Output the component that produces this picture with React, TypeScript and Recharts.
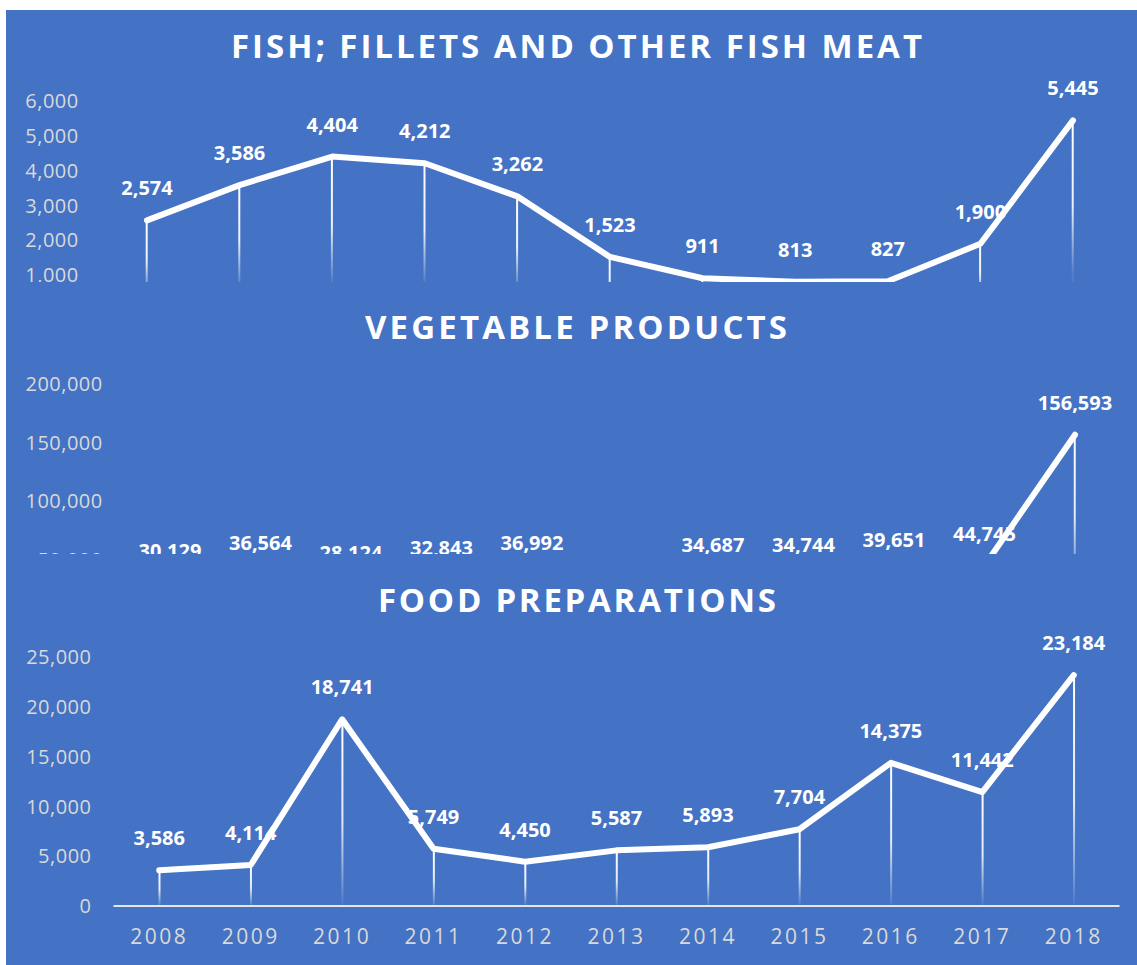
import React from 'react';
import { ComposedChart, Line, Bar, XAxis, YAxis, LabelList } from 'recharts';

const years = ['2008', '2009', '2010', '2011', '2012', '2013', '2014', '2015', '2016', '2017', '2018'];
const fishValues = [2574, 3586, 4404, 4212, 3262, 1523, 911, 813, 827, 1900, 5445];
const vegetableValues = [30129, 36564, 28124, 32843, 36992, 16000, 34687, 34744, 39651, 44745, 156593];
const foodValues = [3586, 4114, 18741, 5749, 4450, 5587, 5893, 7704, 14375, 11442, 23184];

const fishTicks = [0, 1000, 2000, 3000, 4000, 5000, 6000];
const vegetableTicks = [0, 50000, 100000, 150000, 200000];
const foodTicks = [0, 5000, 10000, 15000, 20000, 25000];

const fishTitle = 'FISH; FILLETS AND OTHER FISH MEAT';
const vegetableTitle = 'VEGETABLE PRODUCTS';
const foodTitle = 'FOOD PREPARATIONS';

const BLUE = '#4472C4';
const FONT = '"Open Sans", "Noto Sans", sans-serif';

const fishRows = years.map((year, i) => ({ year, value: fishValues[i] }));
const vegetableRows = years.map((year, i) => ({ year, value: vegetableValues[i] }));
const foodRows = years.map((year, i) => ({ year, value: foodValues[i] }));

const fmt = (v: number) => Number(v).toLocaleString('en-US');

const tickStyle = { fill: '#D9D9D9', fontSize: 20, fontFamily: FONT, letterSpacing: 0.5 };

const renderLabel = (props: any) => {
  const vb = props.viewBox || {};
  const x = vb.x ?? props.x;
  const y = vb.y ?? props.y;
  if (x == null || y == null) return null;
  return (
    <text x={x} y={y - 25} textAnchor="middle" fill="#FFFFFF" fontSize={20} fontWeight={700} fontFamily={FONT}>
      {fmt(props.value)}
    </text>
  );
};

// clipped blue box, chart inside is laid out in page coordinates
function Panel({ top, height, children }: { top: number; height: number; children: React.ReactNode }) {
  return (
    <div style={{ position: 'absolute', left: 6, top, width: 1131, height, overflow: 'hidden', background: BLUE }}>
      <div style={{ position: 'absolute', left: -6, top: -top }}>{children}</div>
    </div>
  );
}

function Series({ id }: { id: string }) {
  return null;
}

export default function App() {
  return (
    <div style={{ position: 'absolute', left: 0, top: 0, width: 1137, height: 965, background: '#FFFFFF', overflow: 'hidden' }}>
      <Panel top={10} height={272}>
        <ComposedChart width={1137} height={330} data={fishRows} margin={{ top: 101, right: 17.7, bottom: 20, left: 0 }}>
          <defs>
            <linearGradient id="dropFish" x1="0" y1="0" x2="0" y2="1">
              <stop offset="0" stopColor="#FFFFFF" stopOpacity={1} />
              <stop offset="0.45" stopColor="#FFFFFF" stopOpacity={0.9} />
              <stop offset="0.8" stopColor="#FFFFFF" stopOpacity={0.1} />
              <stop offset="1" stopColor="#FFFFFF" stopOpacity={0} />
            </linearGradient>
          </defs>
          <XAxis dataKey="year" hide />
          <YAxis width={100.7} domain={[0, 6000]} ticks={fishTicks} interval={0} axisLine={false} tickLine={false} tickSize={0} tickMargin={22} tick={tickStyle} tickFormatter={fmt} />
          <Bar dataKey="value" barSize={2} fill="url(#dropFish)" isAnimationActive={false} />
          <Line dataKey="value" stroke="none" dot={false} activeDot={false} isAnimationActive={false}>
            <LabelList dataKey="value" content={renderLabel} />
          </Line>
          <Line type="linear" dataKey="value" stroke="#FFFFFF" strokeWidth={6} strokeLinecap="round" strokeLinejoin="round" dot={false} activeDot={false} isAnimationActive={false} />
        </ComposedChart>
      </Panel>

      <Panel top={282} height={272}>
        <ComposedChart width={1137} height={640} data={vegetableRows} margin={{ top: 384, right: 16.75, bottom: 22, left: 0 }}>
          <defs>
            <linearGradient id="dropVeg" x1="0" y1="0" x2="0" y2="1">
              <stop offset="0" stopColor="#FFFFFF" stopOpacity={1} />
              <stop offset="0.45" stopColor="#FFFFFF" stopOpacity={0.85} />
              <stop offset="0.8" stopColor="#FFFFFF" stopOpacity={0.1} />
              <stop offset="1" stopColor="#FFFFFF" stopOpacity={0} />
            </linearGradient>
          </defs>
          <XAxis dataKey="year" hide />
          <YAxis width={124.75} domain={[0, 200000]} ticks={vegetableTicks} interval={0} axisLine={false} tickLine={false} tickSize={0} tickMargin={22} tick={tickStyle} tickFormatter={fmt} />
          <Bar dataKey="value" barSize={2} fill="url(#dropVeg)" isAnimationActive={false} />
          <Line dataKey="value" stroke="none" dot={false} activeDot={false} isAnimationActive={false}>
            <LabelList dataKey="value" content={renderLabel} />
          </Line>
          <Line type="linear" dataKey="value" stroke="#FFFFFF" strokeWidth={6} strokeLinecap="round" strokeLinejoin="round" dot={false} activeDot={false} isAnimationActive={false} />
        </ComposedChart>
      </Panel>

      <Panel top={554} height={411}>
        <ComposedChart width={1137} height={965} data={foodRows} margin={{ top: 657, right: 17.5, bottom: 9, left: 0 }}>
          <defs>
            <linearGradient id="dropFood" x1="0" y1="0" x2="0" y2="1">
              <stop offset="0" stopColor="#FFFFFF" stopOpacity={1} />
              <stop offset="0.55" stopColor="#FFFFFF" stopOpacity={0.85} />
              <stop offset="1" stopColor="#FFFFFF" stopOpacity={0.05} />
            </linearGradient>
          </defs>
          <XAxis
            dataKey="year"
            height={50}
            interval={0}
            axisLine={{ stroke: '#E6E6E6', strokeWidth: 2 }}
            tickLine={false}
            tickSize={0}
            tickMargin={23}
            tick={{ fill: '#D9D9D9', fontSize: 21, fontFamily: FONT, letterSpacing: 2.5 }}
          />
          <YAxis width={113.5} domain={[0, 25000]} ticks={foodTicks} interval={0} axisLine={false} tickLine={false} tickSize={0} tickMargin={22} tick={tickStyle} tickFormatter={fmt} />
          <Bar dataKey="value" barSize={2} fill="url(#dropFood)" isAnimationActive={false} />
          <Line dataKey="value" stroke="none" dot={false} activeDot={false} isAnimationActive={false}>
            <LabelList dataKey="value" content={renderLabel} />
          </Line>
          <Line type="linear" dataKey="value" stroke="#FFFFFF" strokeWidth={6} strokeLinecap="round" strokeLinejoin="round" dot={false} activeDot={false} isAnimationActive={false} />
        </ComposedChart>
      </Panel>

      <svg width={1137} height={965} style={{ position: 'absolute', left: 0, top: 0, pointerEvents: 'none' }}>
        <g fill="#FFFFFF" fontFamily={FONT} fontWeight={700} fontSize={33}>
          <text x={231} y={58} textLength={691} lengthAdjust="spacing">{fishTitle}</text>
          <text x={365} y={339} textLength={422} lengthAdjust="spacing">{vegetableTitle}</text>
          <text x={378} y={612} textLength={398} lengthAdjust="spacing">{foodTitle}</text>
        </g>
      </svg>
    </div>
  );
}
